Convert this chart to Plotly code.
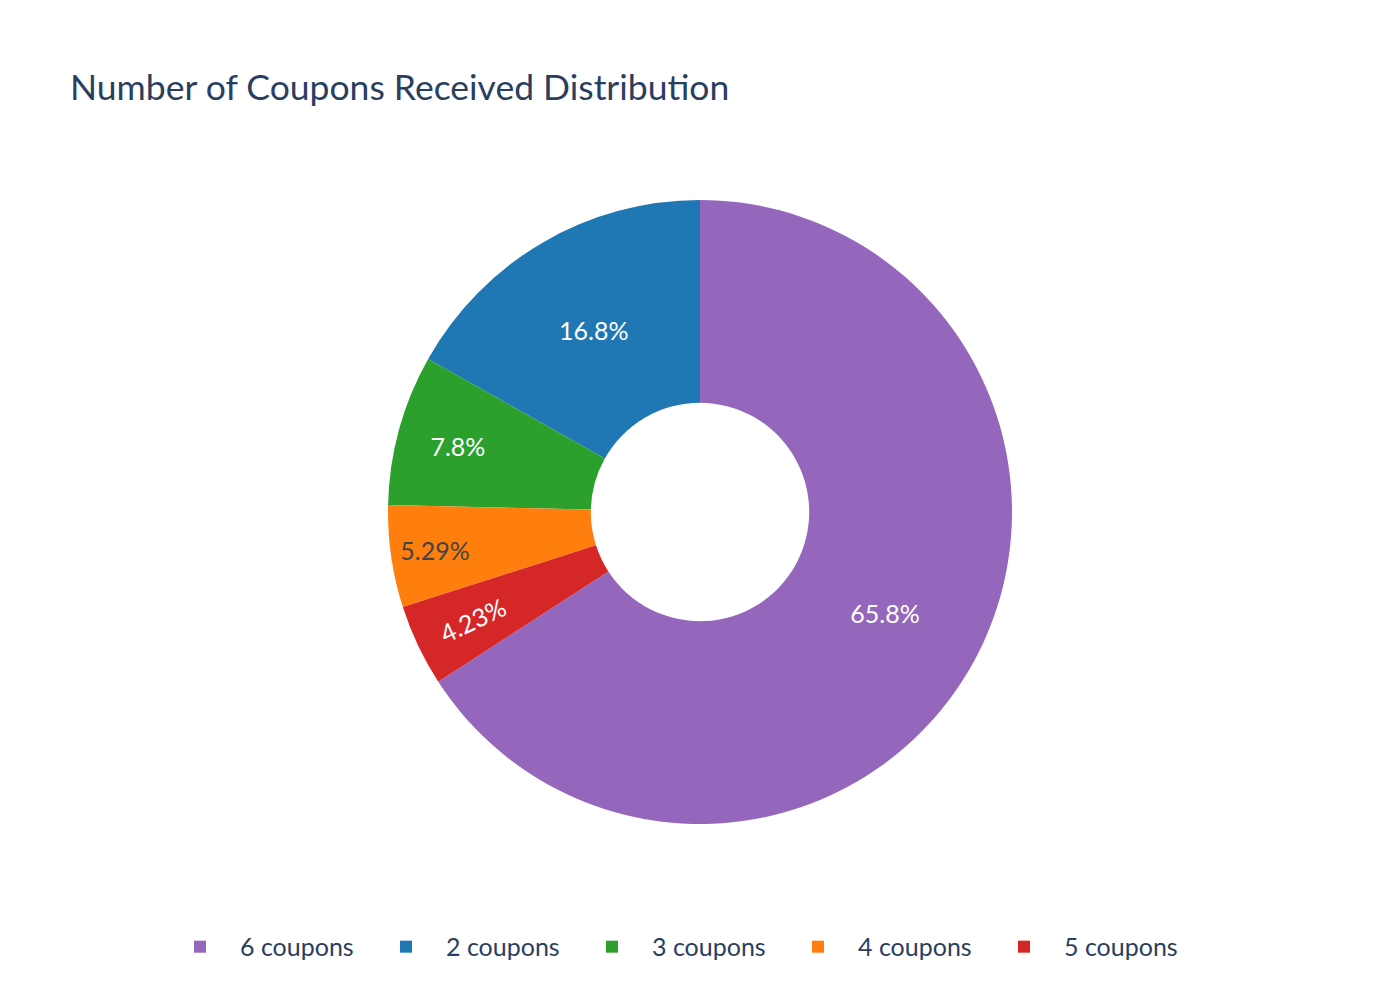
import plotly.graph_objects as go

labels = ["6 coupons", "2 coupons", "3 coupons", "4 coupons", "5 coupons"]
values = [65.84, 16.84, 7.80, 5.29, 4.23]
colors = ["#9467bd", "#1f77b4", "#2ca02c", "#ff7f0e", "#d62728"]
title_text = "Number of Coupons Received Distribution"

FONT = "Lato"
W, H = 1384, 984  # page body has an 8px margin; keep the figure inside the window

fig = go.Figure(
    go.Pie(
        labels=labels,
        values=values,
        hole=0.35,
        marker=dict(colors=colors),
        textinfo="percent",
        textposition="inside",
        textfont=dict(size=25, family=FONT),
        sort=True,
    )
)

fig.update_layout(
    width=W,
    height=H,
    template="plotly_white",
    font=dict(family=FONT, size=24, color="#2a3f5f"),
    title=dict(
        text=title_text,
        x=62 / W,
        xanchor="left",
        y=1 - 80 / H,
        yanchor="middle",
        font=dict(size=35.5, family=FONT, color="#2a3f5f"),
    ),
    margin=dict(l=152, r=152, t=192, b=168),
    legend=dict(
        orientation="h",
        x=0,
        xanchor="left",
        y=-0.197,
        yanchor="middle",
        itemwidth=70,
        entrywidth=121,
        font=dict(size=25, family=FONT),
    ),
    paper_bgcolor="white",
)

fig.write_html("out.html")
